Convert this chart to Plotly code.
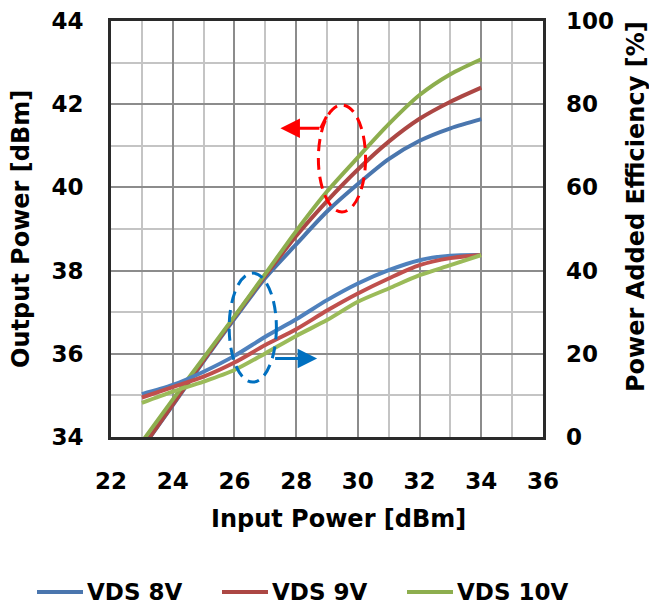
import plotly.graph_objects as go

# Input power sweep [dBm]
pin = [23, 24, 25, 26, 27, 28, 29, 30, 31, 32, 33, 34]

# Output power [dBm] per drain voltage
pout_8v = [33.72, 34.76, 35.82, 36.84, 37.82, 38.63, 39.42, 40.08, 40.68, 41.12, 41.42, 41.64]
pout_9v = [33.72, 34.78, 35.84, 36.88, 37.88, 38.83, 39.67, 40.43, 41.10, 41.65, 42.06, 42.40]
pout_10v = [33.88, 34.90, 35.90, 36.90, 37.92, 38.95, 39.90, 40.72, 41.52, 42.22, 42.72, 43.08]

# Power added efficiency [%] per drain voltage
pae_8v = [10.3, 12.5, 15.7, 19.5, 24.1, 28.3, 32.9, 36.9, 40.1, 42.5, 43.6, 43.75]
pae_9v = [9.5, 12.0, 14.5, 17.9, 22.1, 25.9, 30.4, 34.5, 38.1, 41.3, 43.0, 43.75]
pae_10v = [8.2, 10.9, 13.3, 16.1, 20.1, 24.3, 28.1, 32.5, 35.7, 38.9, 41.3, 43.75]

names = ["VDS 8V", "VDS 9V", "VDS 10V"]
pout_sets = [pout_8v, pout_9v, pout_10v]
pae_sets = [pae_8v, pae_9v, pae_10v]
pout_colors = ["#4A76AE", "#AC4744", "#8DAE4E"]
pae_colors = ["#4F81BD", "#C0504D", "#9BBB59"]

FONT = "DejaVu Sans"
W, H = 649, 605
L, R, T, B = 111, 106, 21, 168
pw = W - L - R
ph = H - T - B


def px_x(px):
    return (px - L) / pw


def px_y(py):
    return (H - B - py) / ph


fig = go.Figure()

for name, ys, col in zip(names, pae_sets, pae_colors):
    fig.add_trace(go.Scatter(
        x=pin, y=ys, yaxis="y2", mode="lines", name=name,
        line=dict(color=col, width=4, shape="spline", smoothing=0.8),
        showlegend=False, hoverinfo="skip"))

for name, ys, col in zip(names, pout_sets, pout_colors):
    fig.add_trace(go.Scatter(
        x=pin, y=ys, mode="lines", name=name,
        line=dict(color=col, width=4, shape="spline", smoothing=0.8),
        showlegend=False))

tick_font = dict(family=FONT, size=23, color="black", weight="bold")
title_font = dict(family=FONT, size=24, color="black", weight="bold")

grid_major = "#8C8C8C"
grid_minor = "#C4C4C4"

fig.update_layout(
    width=W, height=H,
    margin=dict(l=L, r=R, t=T, b=B, pad=0),
    paper_bgcolor="white", plot_bgcolor="white",
    font=dict(family=FONT, color="black"),
    showlegend=False,
    xaxis=dict(
        range=[22, 36], tick0=22, dtick=2, tickfont=tick_font,
        showgrid=True, gridcolor=grid_major, gridwidth=1.5,
        minor=dict(dtick=1, tick0=22, showgrid=True, gridcolor=grid_minor, gridwidth=1.5),
        showline=True, mirror=True, linecolor="#2A2A2A", linewidth=3,
        zeroline=False, ticks="", ticklabelstandoff=21, automargin=False,
    ),
    yaxis=dict(
        range=[34, 44], tick0=34, dtick=2, tickfont=tick_font,
        showgrid=True, gridcolor=grid_major, gridwidth=1.5,
        minor=dict(dtick=1, tick0=34, showgrid=True, gridcolor=grid_minor, gridwidth=1.5),
        showline=True, mirror=True, linecolor="#2A2A2A", linewidth=3,
        zeroline=False, ticks="", ticklabelstandoff=20, automargin=False,
    ),
    yaxis2=dict(
        range=[0, 100], tick0=0, dtick=20, tickfont=tick_font,
        overlaying="y", side="right", showgrid=False, zeroline=False,
        showline=False, ticks="", ticklabelstandoff=22, automargin=False,
    ),
)

# Axis titles
fig.add_annotation(text="Input Power [dBm]", xref="paper", yref="paper",
                   x=px_x(338), y=px_y(519), showarrow=False,
                   font=title_font, xanchor="center", yanchor="middle")
fig.add_annotation(text="Output Power [dBm]", xref="paper", yref="paper",
                   x=px_x(21), y=0.5, textangle=-90, showarrow=False,
                   font=title_font, xanchor="center", yanchor="middle")
fig.add_annotation(text="Power Added Efficiency [%]", xref="paper", yref="paper",
                   x=px_x(636), y=px_y(207), textangle=-90, showarrow=False,
                   font=title_font, xanchor="center", yanchor="middle")

# Legend row below the chart
legend_y = px_y(592)
legend_items = [(37, 83, 85), (222, 268, 270), (407, 453, 455)]
for (lx0, lx1, tx), name, col in zip(legend_items, names, pout_colors):
    fig.add_shape(type="line", xref="paper", yref="paper",
                  x0=px_x(lx0), x1=px_x(lx1), y0=legend_y, y1=legend_y,
                  line=dict(color=col, width=4))
    fig.add_annotation(text=name, xref="paper", yref="paper",
                       x=px_x(tx), y=legend_y, showarrow=False,
                       xanchor="left", yanchor="middle",
                       font=dict(family=FONT, size=23, color="black", weight="bold"))

# Dashed ellipses grouping the curve families
fig.add_shape(type="circle", xref="x", yref="y", x0=28.72, x1=30.25, y0=39.41, y1=41.98,
              line=dict(color="#FF0000", width=3, dash="12px,7px"))
fig.add_shape(type="circle", xref="x", yref="y", x0=25.83, x1=27.36, y0=35.32, y1=37.94,
              line=dict(color="#0070C0", width=3, dash="12px,7px"))

# Red arrow pointing to the left axis
fig.add_shape(type="line", xref="x", yref="y", x0=28.98, y0=41.70, x1=28.79, y1=41.42,
              line=dict(color="#FF0000", width=3))
fig.add_annotation(xref="x", yref="y", axref="x", ayref="y",
                   x=27.49, y=41.42, ax=28.80, ay=41.42, text="",
                   showarrow=True, arrowhead=2, arrowsize=1.3, arrowwidth=3,
                   arrowcolor="#FF0000")

# Blue arrow pointing to the right axis
fig.add_annotation(xref="x", yref="y", axref="x", ayref="y",
                   x=28.68, y=35.89, ax=27.27, ay=35.89, text="",
                   showarrow=True, arrowhead=2, arrowsize=1.3, arrowwidth=3,
                   arrowcolor="#0070C0")

fig.write_html("out.html")
